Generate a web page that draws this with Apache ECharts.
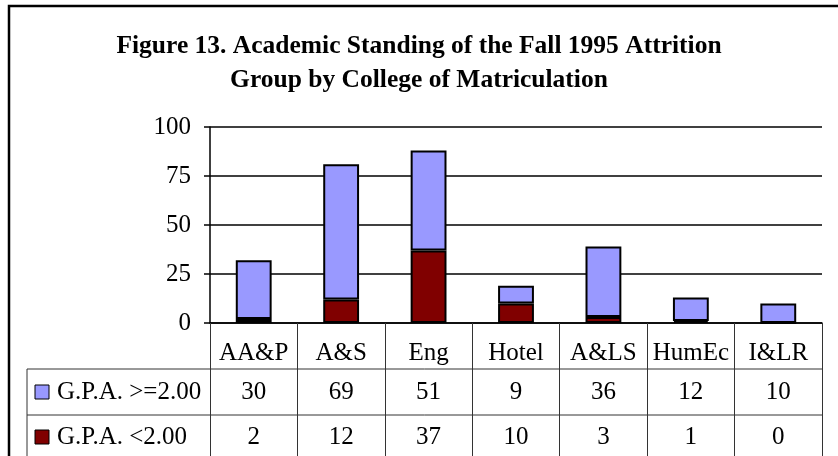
<html>
<head>
	<script src="https://cdn.jsdelivr.net/npm/echarts@6/dist/echarts.min.js"></script>
	<style>
		body{margin:0;background:#fff;}
		#chart_1{width:838px;height:456px;}
	</style>
</head>
<body>
<div id="chart_1"></div>
<script>
	var colleges = ["AA&P","A&S","Eng","Hotel","A&LS","HumEc","I&LR"];
	var gpaHigh = [30,69,51,9,36,12,10];
	var gpaLow = [2,12,37,10,3,1,0];
	var names = ["G.P.A. >=2.00","G.P.A. <2.00"];
	var yTicks = [0,25,50,75,100];

	var font = "'Liberation Serif','Times New Roman',serif";
	var myChart = echarts.init(document.getElementById('chart_1'));
	var option = {
		animation:false,
		title:{
			text:"Figure 13. Academic Standing of the Fall 1995 Attrition\nGroup by College of Matriculation",
			left:'center', top:24,
			textStyle:{fontFamily:font,fontWeight:'bold',fontSize:25.5,color:'#000',lineHeight:34}
		},
		grid:{left:210,right:16,top:127,bottom:133},
		xAxis:{
			type:'category', data:colleges,
			axisLine:{lineStyle:{color:'#000',width:1.5}},
			axisTick:{show:true,interval:0,alignWithLabel:false,length:140,lineStyle:{color:'#333',width:1}},
			axisLabel:{interval:0,fontFamily:font,fontSize:25,color:'#000',margin:11}
		},
		yAxis:{
			type:'value', min:yTicks[0], max:yTicks[yTicks.length-1], interval:25,
			axisLine:{show:true,lineStyle:{color:'#000',width:1.5}},
			axisTick:{show:true,length:6,lineStyle:{color:'#000',width:1.5}},
			splitLine:{lineStyle:{color:'#000',width:1.5}},
			axisLabel:{fontFamily:font,fontSize:25,color:'#000',margin:19}
		},
		series:[
			{name:names[1],type:'bar',stack:'total',barWidth:'41%',data:gpaLow,
				itemStyle:{color:'#800000',borderColor:'#000',borderWidth:2}},
			{name:names[0],type:'bar',stack:'total',barWidth:'41%',data:gpaHigh,
				itemStyle:{color:'#9999ff',borderColor:'#000',borderWidth:2}}
		]
	};
	myChart.setOption(option);

	// data table under the axis
	var rowY = [392,437];
	var lineY = [369,415];
	var tableLeft = 27, tableRight = 822;
	var els = [];
	els.push({type:'rect',shape:{x:9,y:6,width:850,height:470},style:{fill:'none',stroke:'#000',lineWidth:2.5},silent:true});
	lineY.forEach(function(y){
		els.push({type:'line',shape:{x1:tableLeft,y1:y,x2:tableRight,y2:y},style:{stroke:'#333',lineWidth:1}});
	});
	els.push({type:'line',shape:{x1:tableLeft,y1:lineY[0],x2:tableLeft,y2:460},style:{stroke:'#333',lineWidth:1}});
	var rows = [gpaHigh,gpaLow];
	var colors = ['#9999ff','#800000'];
	rows.forEach(function(vals,r){
		els.push({type:'rect',shape:{x:35,y:rowY[r]-7,width:14,height:14},style:{fill:colors[r],stroke:'#000',lineWidth:1}});
		els.push({type:'text',x:57,y:rowY[r],style:{text:names[r],font:'25px '+font,fill:'#000',textVerticalAlign:'middle'}});
		for(var i=0;i<colleges.length;i++){
			var x = myChart.convertToPixel({xAxisIndex:0},colleges[i]);
			els.push({type:'text',x:x,y:rowY[r],style:{text:String(vals[i]),font:'25px '+font,fill:'#000',textAlign:'center',textVerticalAlign:'middle'}});
		}
	});
	myChart.setOption({graphic:{elements:els}});
</script>
</body>
</html>
